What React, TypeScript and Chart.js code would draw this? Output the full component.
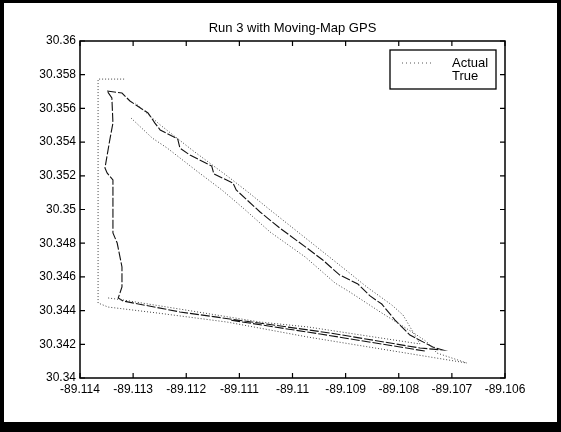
import React, { useEffect, useRef } from 'react';
import { Chart, registerables } from 'chart.js';

Chart.register(...registerables);

const titleText = 'Run 3 with Moving-Map GPS';
const seriesNames = ['Actual', 'True'];

const xTickValues = [-89.114, -89.113, -89.112, -89.111, -89.11, -89.109, -89.108, -89.107, -89.106];
const xTickLabels = ['-89.114', '-89.113', '-89.112', '-89.111', '-89.11', '-89.109', '-89.108', '-89.107', '-89.106'];
const yTickValues = [30.34, 30.342, 30.344, 30.346, 30.348, 30.35, 30.352, 30.354, 30.356, 30.358, 30.36];
const yTickLabels = ['30.34', '30.342', '30.344', '30.346', '30.348', '30.35', '30.352', '30.354', '30.356', '30.358', '30.36'];

// Actual (GPS) track, null = break between passes
const actualLon = [
  -89.11317, -89.11366, -89.11366, -89.11347, -89.11255, -89.11123, -89.10971, -89.10798, -89.10672,
  -89.10728, -89.10747, -89.10766, -89.10835, -89.10892, -89.1092, -89.10976, -89.11042, -89.11093,
  -89.11133, -89.11178, -89.11236, -89.11264, -89.11306,
  null,
  -89.11347, -89.11319, -89.11212, -89.11061, -89.10971, -89.1076, -89.10792, -89.10813, -89.1086,
  -89.10895, -89.11042, -89.11084, -89.11123, -89.11189, -89.11249, -89.11296,
];
const actualLat = [
  30.35774, 30.35774, 30.34445, 30.34421, 30.34386, 30.34332, 30.34243, 30.34154, 30.34089,
  30.34148, 30.34214, 30.34255, 30.34392, 30.3451, 30.34564, 30.34718, 30.34866, 30.35009,
  30.35116, 30.35223, 30.35365, 30.35424, 30.35549,
  null,
  30.34475, 30.34463, 30.34409, 30.34332, 30.34303, 30.34202, 30.34374, 30.34433, 30.3454,
  30.34629, 30.34997, 30.35104, 30.35199, 30.35353, 30.35502, 30.35632,
];

// True track
const trueLon = [
  -89.11349, -89.11321, -89.11306, -89.11272, -89.11259, -89.11249, -89.11216, -89.11212, -89.11193,
  -89.11152, -89.11148, -89.11112, -89.11106, -89.11061, -89.11024,
  -89.10973, -89.10943, -89.10911, -89.10877, -89.10854, -89.10832, -89.10807, -89.10779, -89.10736,
  -89.10717, -89.1076, -89.10929, -89.11212, -89.11319, -89.11328, -89.11321, -89.11321, -89.1133,
  -89.11338, -89.11338, -89.11349, -89.11353, -89.11344, -89.11338, -89.1134, -89.11349,
  null,
  -89.10751, -89.10948, -89.11118,
];
const trueLat = [
  30.35703, 30.35691, 30.35644, 30.35573, 30.35513, 30.35472, 30.35418, 30.35365, 30.35323,
  30.35258, 30.35211, 30.35157, 30.35116, 30.34985, 30.3489,
  30.34772, 30.347, 30.34611, 30.34558, 30.34487, 30.34439, 30.34344, 30.34255, 30.34184,
  30.34166, 30.34178, 30.34267, 30.34392, 30.34457, 30.34475, 30.3454, 30.34659, 30.34801,
  30.34861, 30.35175, 30.35217, 30.35246, 30.35412, 30.35513, 30.35662, 30.35703,
  null,
  30.3416, 30.34261, 30.34344,
];

const FONT = '"Liberation Sans", Arial, Helvetica, sans-serif';

const toPoints = (xs: (number | null)[], ys: (number | null)[]) =>
  xs.map((x, i) => ({ x: x as any, y: ys[i] as any }));

const decorPlugin = {
  id: 'matlabDecor',
  beforeDraw(chart: any) {
    const ctx = chart.ctx;
    const w = chart.width;
    const h = chart.height;
    ctx.save();
    ctx.fillStyle = '#000';
    ctx.fillRect(0, 0, w, h);
    ctx.fillStyle = '#fff';
    ctx.fillRect(4, 3, w - 8, h - 13);
    ctx.fillStyle = '#000';
    ctx.font = `13px ${FONT}`;
    ctx.textAlign = 'center';
    ctx.textBaseline = 'middle';
    ctx.fillText(titleText, (chart.chartArea.left + chart.chartArea.right) / 2, 28);
    ctx.restore();
  },
  afterDraw(chart: any) {
    const ctx = chart.ctx;
    const { left, right, top, bottom } = chart.chartArea;
    const xs = chart.scales.x;
    const ys = chart.scales.y;
    ctx.save();
    ctx.strokeStyle = '#000';
    ctx.lineWidth = 1.5;
    ctx.strokeRect(left, top, right - left, bottom - top);
    ctx.lineWidth = 1.2;
    const tl = 5;
    ctx.beginPath();
    xTickValues.forEach((v) => {
      const px = xs.getPixelForValue(v);
      ctx.moveTo(px, bottom);
      ctx.lineTo(px, bottom - tl);
      ctx.moveTo(px, top);
      ctx.lineTo(px, top + tl);
    });
    yTickValues.forEach((v) => {
      const py = ys.getPixelForValue(v);
      ctx.moveTo(left, py);
      ctx.lineTo(left + tl, py);
      ctx.moveTo(right, py);
      ctx.lineTo(right - tl, py);
    });
    ctx.stroke();

    // legend box
    const lx = 390, ly = 50, lw = 106, lh = 39;
    ctx.fillStyle = '#fff';
    ctx.fillRect(lx, ly, lw, lh);
    ctx.lineWidth = 1.3;
    ctx.strokeRect(lx, ly, lw, lh);
    ctx.lineWidth = 1;
    ctx.strokeStyle = '#555';
    ctx.setLineDash([1, 3]);
    ctx.beginPath();
    ctx.moveTo(lx + 12, ly + 13);
    ctx.lineTo(lx + 42, ly + 13);
    ctx.stroke();
    ctx.setLineDash([]);
    ctx.fillStyle = '#000';
    ctx.font = `13px ${FONT}`;
    ctx.textAlign = 'left';
    ctx.textBaseline = 'middle';
    ctx.fillText(seriesNames[0], lx + 62, ly + 13);
    ctx.fillText(seriesNames[1], lx + 62, ly + 26);
    ctx.restore();
  },
};

export default function App() {
  const ref = useRef<HTMLCanvasElement>(null);
  useEffect(() => {
    if (!ref.current) return;
    const chart = new Chart(ref.current, {
      type: 'scatter',
      data: {
        datasets: [
          {
            label: seriesNames[0],
            data: toPoints(actualLon, actualLat),
            showLine: true,
            borderColor: '#444',
            borderWidth: 1,
            borderDash: [1, 2],
            pointRadius: 0,
            spanGaps: false,
          },
          {
            label: seriesNames[1],
            data: toPoints(trueLon, trueLat),
            showLine: true,
            borderColor: '#111',
            borderWidth: 1.1,
            borderDash: [9, 2],
            pointRadius: 0,
            spanGaps: false,
          },
        ],
      },
      options: {
        animation: false,
        responsive: false,
        devicePixelRatio: 1,
        layout: { padding: { top: 41, left: 0, right: 56, bottom: 0 } },
        plugins: { legend: { display: false }, tooltip: { enabled: false }, title: { display: false } },
        scales: {
          x: {
            type: 'linear',
            min: -89.114,
            max: -89.106,
            grid: { display: false, drawTicks: false },
            border: { display: false },
            afterBuildTicks: (s: any) => {
              s.ticks = xTickValues.map((v) => ({ value: v }));
            },
            afterFit: (s: any) => {
              s.height = 54;
            },
            ticks: {
              autoSkip: false,
              maxRotation: 0,
              padding: 4,
              color: '#000',
              font: { family: FONT, size: 12 },
              callback: (_v: any, i: number) => xTickLabels[i],
            },
          },
          y: {
            type: 'linear',
            min: 30.34,
            max: 30.36,
            grid: { display: false, drawTicks: false },
            border: { display: false },
            afterBuildTicks: (s: any) => {
              s.ticks = yTickValues.map((v) => ({ value: v }));
            },
            afterFit: (s: any) => {
              s.width = 80;
            },
            ticks: {
              autoSkip: false,
              padding: 4,
              color: '#000',
              font: { family: FONT, size: 12 },
              callback: (_v: any, i: number) => yTickLabels[i],
            },
          },
        },
      },
      plugins: [decorPlugin],
    } as any);
    return () => chart.destroy();
  }, []);
  return (
    <div style={{ position: 'fixed', left: 0, top: 0, width: 561, height: 432 }}>
      <canvas ref={ref} width={561} height={432} style={{ width: 561, height: 432, display: 'block' }} />
    </div>
  );
}
